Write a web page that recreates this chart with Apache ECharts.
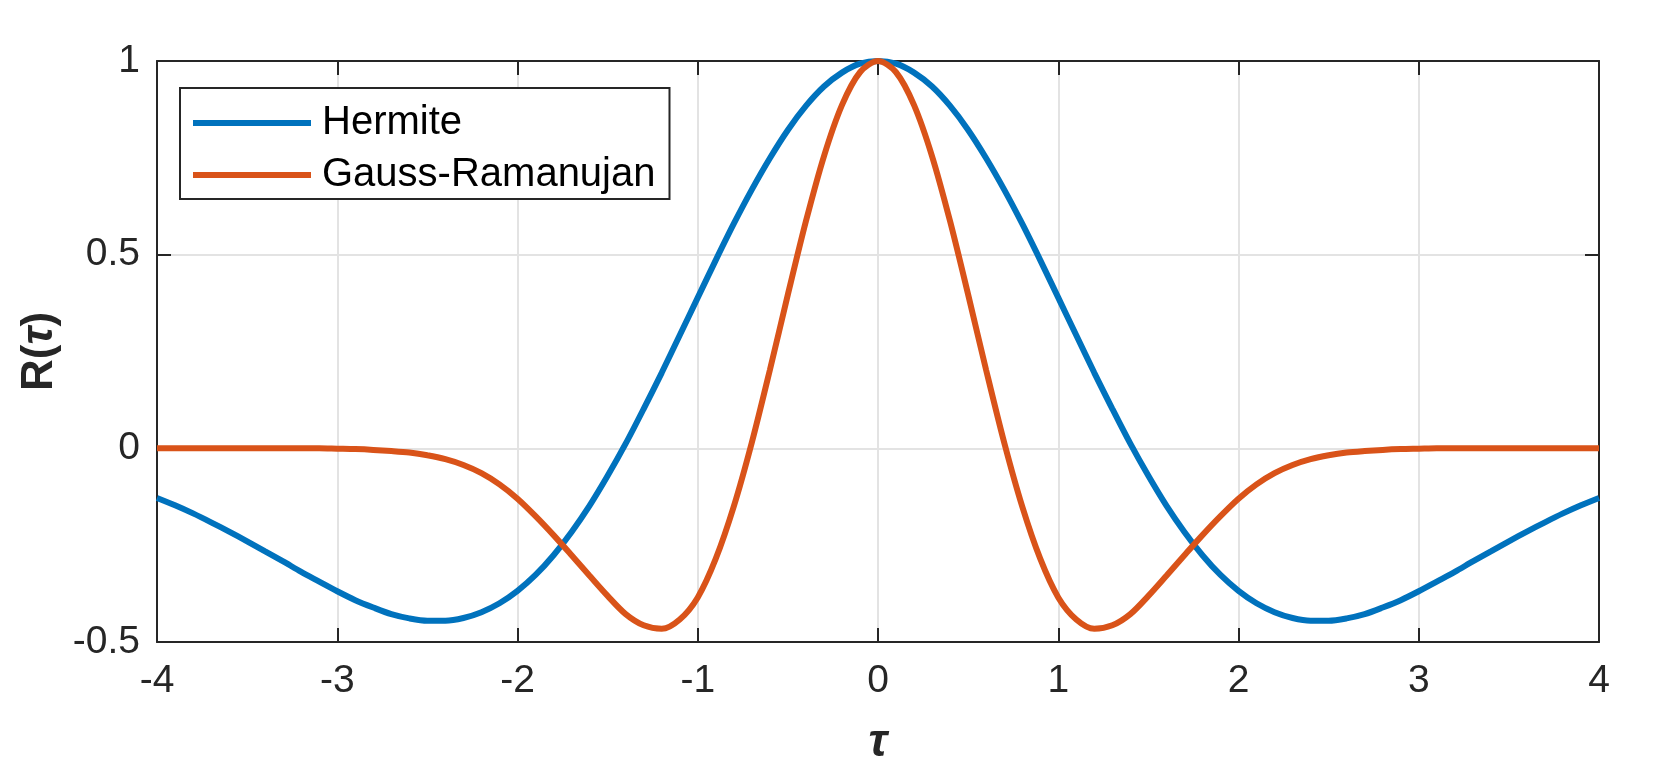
<!DOCTYPE html>
<html>
<head>
<meta charset="utf-8">
<script src="https://cdn.jsdelivr.net/npm/echarts@6/dist/echarts.min.js"></script>
<style>
  html, body { margin: 0; padding: 0; background: #fff; }
  #chart { width: 1661px; height: 779px; }
</style>
</head>
<body>
<div id="chart"></div>
<script>
// tau sample points (x axis)
var tau = [
  -4.0, -3.9, -3.8, -3.7, -3.6, -3.5, -3.4, -3.3, -3.2, -3.1,
  -3.0, -2.9, -2.8, -2.7, -2.6, -2.5, -2.4, -2.3, -2.2, -2.1,
  -2.0, -1.9, -1.8, -1.7, -1.6, -1.5, -1.4, -1.3, -1.2, -1.1,
  -1.0, -0.9, -0.8, -0.7, -0.6, -0.5, -0.4, -0.3, -0.2, -0.1,
  0.0,
  0.1, 0.2, 0.3, 0.4, 0.5, 0.6, 0.7, 0.8, 0.9, 1.0,
  1.1, 1.2, 1.3, 1.4, 1.5, 1.6, 1.7, 1.8, 1.9, 2.0,
  2.1, 2.2, 2.3, 2.4, 2.5, 2.6, 2.7, 2.8, 2.9, 3.0,
  3.1, 3.2, 3.3, 3.4, 3.5, 3.6, 3.7, 3.8, 3.9, 4.0
]

// R(tau)
var hermite = [
  -0.128, -0.147, -0.168, -0.191, -0.215, -0.240, -0.266, -0.292, -0.319, -0.344,
  -0.369, -0.392, -0.411, -0.428, -0.439, -0.445, -0.445, -0.438, -0.423, -0.400,
  -0.368, -0.327, -0.276, -0.216, -0.148, -0.071, 0.012, 0.102, 0.195, 0.292,
  0.389, 0.486, 0.580, 0.668, 0.749, 0.822, 0.884, 0.934, 0.970, 0.993,
  1.000,
  0.993, 0.970, 0.934, 0.884, 0.822, 0.749, 0.668, 0.580, 0.486, 0.389,
  0.292, 0.195, 0.102, 0.012, -0.071, -0.148, -0.216, -0.276, -0.327, -0.368,
  -0.400, -0.423, -0.438, -0.445, -0.445, -0.439, -0.428, -0.411, -0.392, -0.369,
  -0.344, -0.319, -0.292, -0.266, -0.240, -0.215, -0.191, -0.168, -0.147, -0.128
]

var gaussRamanujan = [
  0, 0, 0, 0, 0, 0, 0, 0, 0, 0,
  -0.001, -0.002, -0.004, -0.007, -0.011, -0.018, -0.028, -0.043, -0.064, -0.093,
  -0.130, -0.175, -0.224, -0.276, -0.329, -0.381, -0.428, -0.457, -0.466, -0.442,
  -0.385, -0.285, -0.150, 0.015, 0.202, 0.397, 0.586, 0.754, 0.886, 0.971,
  1.000,
  0.971, 0.886, 0.754, 0.586, 0.397, 0.202, 0.015, -0.150, -0.285, -0.385,
  -0.442, -0.466, -0.457, -0.428, -0.381, -0.329, -0.276, -0.224, -0.175, -0.130,
  -0.093, -0.064, -0.043, -0.028, -0.018, -0.011, -0.007, -0.004, -0.002, -0.001,
  0, 0, 0, 0, 0, 0, 0, 0, 0, 0
]

var xTicks = [-4, -3, -2, -1, 0, 1, 2, 3, 4]
var yTicks = [-0.5, 0, 0.5, 1]

var axisColor = '#262626'
var fontFamily = '"Liberation Sans", Arial, Helvetica, sans-serif'

function pairs(ys) {
  return tau.map(function (t, i) { return [t, ys[i]] })
}

var chart = echarts.init(document.getElementById('chart'))

// top / right box lines with inward ticks, like a matlab axes box
function frameAxis(pos, min, max, interval) {
  return {
    type: 'value',
    position: pos,
    min: min,
    max: max,
    interval: interval,
    axisLine: { show: true, onZero: false, lineStyle: { color: axisColor, width: 2 } },
    axisTick: { show: true, inside: true, length: 14, lineStyle: { color: axisColor, width: 2 } },
    axisLabel: { show: false },
    splitLine: { show: false }
  }
}

chart.setOption({
  animation: false,
  backgroundColor: '#fff',
  textStyle: { fontFamily: fontFamily },
  grid: { left: 157, right: 62, top: 61, bottom: 137, containLabel: false },
  legend: {
    orient: 'vertical',
    left: 180,
    top: 88,
    padding: [15, 14, 4, 13],
    itemGap: 12,
    itemWidth: 118,
    itemHeight: 6,
    icon: 'rect',
    borderColor: axisColor,
    borderWidth: 2,
    backgroundColor: '#fff',
    textStyle: { fontSize: 40, lineHeight: 40, color: '#000', fontFamily: fontFamily, padding: [0, 0, 0, 6] },
    data: ['Hermite', 'Gauss-Ramanujan']
  },
  xAxis: [
    {
      type: 'value',
      min: xTicks[0],
      max: xTicks[xTicks.length - 1],
      interval: 1,
      name: 'τ',
      nameLocation: 'middle',
      nameGap: 78,
      nameTextStyle: { fontSize: 46, fontWeight: 'bold', fontStyle: 'italic', color: axisColor, fontFamily: fontFamily },
      axisLine: { show: true, onZero: false, lineStyle: { color: axisColor, width: 2 } },
      axisTick: { show: true, inside: true, length: 14, lineStyle: { color: axisColor, width: 2 } },
      axisLabel: { fontSize: 39, color: axisColor, margin: 20, fontFamily: fontFamily },
      splitLine: { show: true, lineStyle: { color: '#e3e3e3', width: 2 } }
    },
    frameAxis('top', xTicks[0], xTicks[xTicks.length - 1], 1)
  ],
  yAxis: [
    {
      type: 'value',
      min: yTicks[0],
      max: yTicks[yTicks.length - 1],
      interval: 0.5,
      name: '{a|R(}{b|τ}{a|)}',
      nameLocation: 'middle',
      nameGap: 94,
      nameRotate: 90,
      nameTextStyle: {
        color: axisColor,
        rich: {
          a: { fontSize: 44, fontWeight: 'bold', color: axisColor, fontFamily: fontFamily },
          b: { fontSize: 44, fontWeight: 'bold', fontStyle: 'italic', color: axisColor, fontFamily: fontFamily }
        }
      },
      axisLine: { show: true, onZero: false, lineStyle: { color: axisColor, width: 2 } },
      axisTick: { show: true, inside: true, length: 14, lineStyle: { color: axisColor, width: 2 } },
      axisLabel: { fontSize: 39, color: axisColor, margin: 17, fontFamily: fontFamily },
      splitLine: { show: true, lineStyle: { color: '#e3e3e3', width: 2 } }
    },
    frameAxis('right', yTicks[0], yTicks[yTicks.length - 1], 0.5)
  ],
  series: [
    {
      name: 'Hermite',
      type: 'line',
      data: pairs(hermite),
      smooth: 0.3,
      showSymbol: false,
      clip: false,
      color: '#0072BD',
      lineStyle: { width: 6, color: '#0072BD' }
    },
    {
      name: 'Gauss-Ramanujan',
      type: 'line',
      data: pairs(gaussRamanujan),
      smooth: 0.3,
      showSymbol: false,
      clip: false,
      color: '#D95319',
      lineStyle: { width: 6, color: '#D95319' }
    }
  ]
})
</script>
</body>
</html>
